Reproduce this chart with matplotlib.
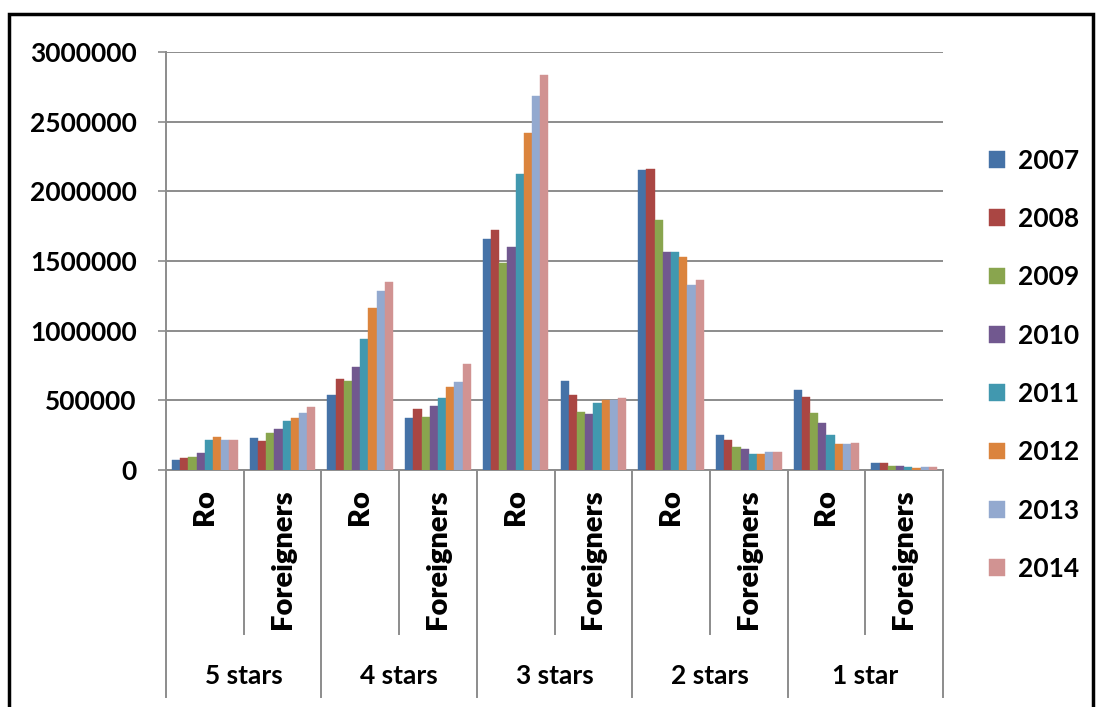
import matplotlib
matplotlib.use("Agg")
import matplotlib.pyplot as plt
import matplotlib.transforms as mtransforms
from matplotlib.patches import Rectangle
import numpy as np

plt.rcParams['font.family'] = ['Lato', 'DejaVu Sans']

groups = ["5 stars", "4 stars", "3 stars", "2 stars", "1 star"]
subgroups = ["Ro", "Foreigners"]
years = ["2007", "2008", "2009", "2010", "2011", "2012", "2013", "2014"]

# arrivals per category (5★ Ro, 5★ For, 4★ Ro, 4★ For, ... 1★ For)
v2007 = [72000, 227000, 538000, 371000, 1660000, 636000, 2151000, 249000, 572000, 50000]
v2008 = [84000, 205000, 651000, 440000, 1725000, 538000, 2160000, 215000, 526000, 52000]
v2009 = [95000, 263000, 636000, 383000, 1483000, 416000, 1794000, 163000, 407000, 29000]
v2010 = [120000, 294000, 739000, 462000, 1603000, 402000, 1562000, 148000, 340000, 29000]
v2011 = [217000, 349000, 938000, 517000, 2124000, 481000, 1562000, 117000, 249000, 19000]
v2012 = [239000, 370000, 1160000, 596000, 2416000, 500000, 1526000, 115000, 184000, 17000]
v2013 = [215000, 406000, 1282000, 629000, 2682000, 500000, 1328000, 127000, 184000, 19000]
v2014 = [215000, 449000, 1351000, 761000, 2837000, 514000, 1361000, 127000, 194000, 19000]
series = [v2007, v2008, v2009, v2010, v2011, v2012, v2013, v2014]

colors = ["#4572A7", "#AA4643", "#89A54E", "#71588F",
          "#4198AF", "#DB843D", "#93A9CF", "#D19392"]

W, H = 1096, 707
fig = plt.figure(figsize=(W / 100, H / 100), dpi=100)
fig.patch.set_facecolor("white")

# outer frame (bottom edge runs off the canvas)
fig.patches.append(Rectangle((9 / W, -0.02), (1093 - 9) / W, (H - 14) / H + 0.02,
                             transform=fig.transFigure, fill=False,
                             edgecolor="black", linewidth=2.5))

left, right, top, bottom = 166, 943, 52, 470
ax = fig.add_axes([left / W, 1 - bottom / H, (right - left) / W, (bottom - top) / H])

n_cat = len(groups) * len(subgroups)
x = np.arange(n_cat)
n_ser = len(series)
total = 0.845
bw = total / n_ser
handles = []
for k, (vals, c) in enumerate(zip(series, colors)):
    b = ax.bar(x - total / 2 + bw * (k + 0.5), vals, width=bw, color=c,
               edgecolor=c, linewidth=0.3, zorder=3, label=years[k])
    handles.append(b)

ax.set_xlim(-0.5, n_cat - 0.5)
ax.set_ylim(0, 3000000)
ax.set_yticks(np.arange(0, 3000001, 500000))
ax.set_yticklabels([f"{int(v)}" for v in np.arange(0, 3000001, 500000)],
                   fontsize=19, fontweight="bold")
ax.yaxis.grid(True, color="#8c8c8c", linewidth=1.4, zorder=0)
ax.set_axisbelow(True)
ax.tick_params(axis="y", length=6, width=1.2, color="#8c8c8c", pad=15)
ax.set_xticks([])
for s in ["top", "right"]:
    ax.spines[s].set_visible(False)
ax.spines["left"].set_color("#8c8c8c")
ax.spines["left"].set_linewidth(1.4)
ax.spines["bottom"].set_color("#8c8c8c")
ax.spines["bottom"].set_linewidth(1.4)

# two-level category axis
trans = mtransforms.blended_transform_factory(ax.transData, ax.transAxes)
ax_h = bottom - top
low = -(697 - bottom) / ax_h
mid = -(634 - bottom) / ax_h
for i in range(n_cat + 1):
    xb = i - 0.5
    yb = low if i % 2 == 0 else mid
    ax.plot([xb, xb], [0, yb], color="#8c8c8c", linewidth=1.4,
            transform=trans, clip_on=False)

lab_top = -(489 - bottom) / ax_h
for i in range(n_cat):
    ax.text(i, lab_top, subgroups[i % 2], transform=trans, rotation=90,
            ha="center", va="top", fontsize=21, fontweight="heavy")

grp_y = -(676 - bottom) / ax_h
for g, name in enumerate(groups):
    ax.text(2 * g + 0.5, grp_y, name, transform=trans, ha="center",
            va="center", fontsize=19, fontweight="bold")

fig.legend(handles=handles, labels=years, loc="upper left",
           bbox_to_anchor=(965 / W, 1 - 125 / H), frameon=False,
           prop={"weight": "bold", "size": 19},
           handlelength=0.6, handleheight=0.6, handletextpad=0.5,
           labelspacing=1.3)

fig.savefig("out.png", dpi=100, facecolor="white")
